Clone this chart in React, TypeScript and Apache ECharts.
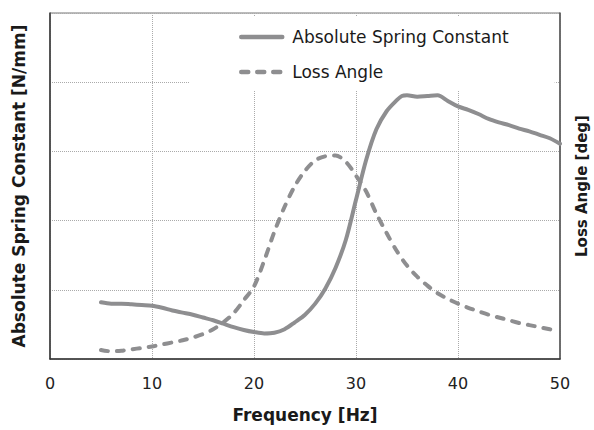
import React, { useEffect, useRef } from "react";
import * as echarts from "echarts";

const springFreq = [5, 6, 7, 8, 9, 10, 11, 12, 13, 14, 15, 16, 17, 18, 19, 20, 21, 22, 23, 24, 25, 26, 27, 28, 29, 30, 31, 32, 33, 34, 34.5, 35, 36, 37, 38, 39, 40, 41, 42, 43, 44, 45, 46, 47, 48, 49, 50];
const springValues = [0.82, 0.8, 0.8, 0.79, 0.78, 0.77, 0.74, 0.7, 0.67, 0.64, 0.6, 0.56, 0.51, 0.46, 0.42, 0.39, 0.37, 0.38, 0.43, 0.53, 0.64, 0.8, 1.02, 1.32, 1.72, 2.3, 2.88, 3.32, 3.58, 3.74, 3.8, 3.81, 3.79, 3.8, 3.81, 3.73, 3.65, 3.6, 3.54, 3.47, 3.42, 3.38, 3.33, 3.29, 3.24, 3.19, 3.11];

const lossFreq = [5, 6, 7, 8, 9, 10, 11, 12, 13, 14, 15, 16, 17, 18, 19, 20, 21, 22, 23, 24, 25, 26, 27, 28, 29, 30, 31, 32, 33, 34, 35, 36, 37, 38, 39, 40, 41, 42, 43, 44, 45, 46, 47, 48, 49, 49.5];
const lossValues = [0.13, 0.11, 0.12, 0.14, 0.16, 0.18, 0.21, 0.24, 0.27, 0.31, 0.36, 0.43, 0.53, 0.66, 0.85, 1.05, 1.42, 1.84, 2.2, 2.5, 2.72, 2.87, 2.93, 2.94, 2.85, 2.65, 2.42, 2.1, 1.82, 1.56, 1.35, 1.19, 1.06, 0.95, 0.87, 0.8, 0.74, 0.69, 0.64, 0.6, 0.56, 0.52, 0.49, 0.46, 0.43, 0.41];

const xTicks = [0, 10, 20, 30, 40, 50];
const seriesNames = ["Absolute Spring Constant", "Loss Angle"];

const FONT = "DejaVu Sans, Verdana, sans-serif";
const LINE_COLOR = "#8e8e90";

export default function App() {
  const ref = useRef<HTMLDivElement>(null);
  useEffect(() => {
    if (!ref.current) return;
    const chart = echarts.init(ref.current, undefined, { renderer: "svg" });
    chart.setOption({
      animation: false,
      backgroundColor: "#fff",
      textStyle: { fontFamily: FONT },
      grid: {
        left: 50,
        right: 34,
        top: 13,
        bottom: 71,
        containLabel: false,
        outerBoundsMode: "none",
        show: true,
        borderColor: "#777",
        borderWidth: 1,
        backgroundColor: "transparent",
      },
      legend: {
        orient: "vertical",
        left: 190,
        top: 17,
        padding: [10, 46, 8, 49],
        backgroundColor: "#fff",
        itemWidth: 41,
        itemHeight: 20,
        itemGap: 15,
        data: seriesNames,
        itemStyle: { opacity: 0 },
        lineStyle: { width: 4.5 },
        textStyle: { fontSize: 17, lineHeight: 20, color: "#1a1a1a", fontFamily: FONT, padding: [0, 0, 0, 5] },
      },
      xAxis: {
        type: "value",
        min: 0,
        max: 50,
        interval: 10,
        name: "Frequency [Hz]",
        nameLocation: "middle",
        nameGap: 47,
        nameTextStyle: { fontSize: 17, fontWeight: "bold", color: "#1a1a1a", fontFamily: FONT },
        axisLine: { show: true, lineStyle: { color: "#333", width: 1.5 } },
        axisTick: { show: false },
        axisLabel: {
          margin: 16,
          fontSize: 16,
          color: "#222",
          fontFamily: FONT,
          formatter: (v: number) => (xTicks.includes(v) ? String(v) : ""),
        },
        splitLine: { show: true, lineStyle: { type: "dotted", color: "#aaa", width: 1 } },
      },
      yAxis: [
        {
          type: "value",
          min: 0,
          max: 5,
          interval: 1,
          name: "Absolute Spring Constant [N/mm]",
          nameLocation: "middle",
          nameGap: 23,
          nameRotate: 90,
          nameTextStyle: { fontSize: 17, fontWeight: "bold", color: "#1a1a1a", fontFamily: FONT },
          axisLine: { show: true, lineStyle: { color: "#333", width: 1.5 } },
          axisTick: { show: false },
          axisLabel: { show: false },
          splitLine: { show: true, lineStyle: { type: "dotted", color: "#aaa", width: 1 } },
        },
        {
          type: "value",
          min: 0,
          max: 5,
          interval: 1,
          position: "right",
          name: "Loss Angle [deg]",
          nameLocation: "middle",
          nameGap: 14,
          nameRotate: 90,
          nameTextStyle: { fontSize: 15, fontWeight: "bold", color: "#1a1a1a", fontFamily: FONT },
          axisLine: { show: true, lineStyle: { color: "#555", width: 1.5 } },
          axisTick: { show: false },
          axisLabel: { show: false },
          splitLine: { show: false },
        },
      ],
      series: [
        {
          name: seriesNames[0],
          type: "line",
          yAxisIndex: 0,
          symbol: "none",
          smooth: 0.3,
          data: springFreq.map((f, i) => [f, springValues[i]]),
          lineStyle: { color: LINE_COLOR, width: 4, cap: "round", join: "round" },
          itemStyle: { color: LINE_COLOR },
        },
        {
          name: seriesNames[1],
          type: "line",
          yAxisIndex: 1,
          symbol: "none",
          smooth: 0.3,
          data: lossFreq.map((f, i) => [f, lossValues[i]]),
          lineStyle: { color: LINE_COLOR, width: 4, type: [7, 9], cap: "round", join: "round" },
          itemStyle: { color: LINE_COLOR },
        },
      ],
    });
    return () => chart.dispose();
  }, []);
  return <div ref={ref} style={{ width: 594, height: 430, position: "absolute", left: 0, top: 0 }} />;
}
